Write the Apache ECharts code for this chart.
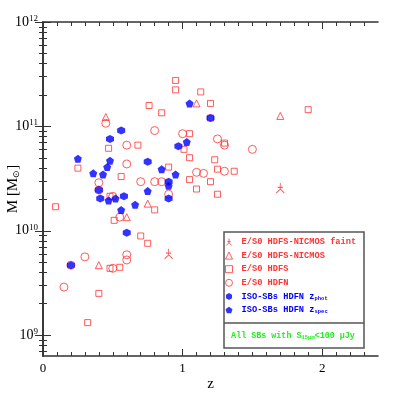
<!DOCTYPE html>
<html>
<head>
<meta charset="utf-8">
<script src="https://cdn.jsdelivr.net/npm/echarts@6/dist/echarts.min.js"></script>
<style>
html,body{margin:0;padding:0;background:#fff;}
#chart{width:399px;height:399px;}
</style>
</head>
<body>
<div id="chart"></div>
<script>
// values: z and log10(M / Msun)
var faintZ    = [0.90, 1.70];
var faintLogM = [9.78, 10.41];

var nicmosZ    = [0.45, 1.10, 1.70, 0.75, 0.60, 0.40];
var nicmosLogM = [11.09, 11.22, 11.10, 10.26, 10.13, 9.67];

var hdfsZ    = [0.25, 0.47, 0.56, 0.68, 0.76, 0.85, 0.90, 0.95, 0.95, 1.13, 1.20, 1.20,
                1.05, 1.30, 1.01, 1.05, 1.23, 1.25, 1.37, 1.20, 1.25, 1.90, 0.80, 1.05,
                1.10, 0.48, 0.09, 0.51, 0.70, 0.75, 0.48, 0.55, 0.40, 0.32];
var hdfsLogM = [10.60, 10.79, 10.52, 10.82, 11.20, 11.13, 10.61, 11.44, 11.35, 11.33, 11.22, 11.08,
                10.93, 10.84, 10.78, 10.70, 10.68, 10.59, 10.57, 10.47, 10.35, 11.16, 10.20, 10.49,
                10.40, 10.33, 10.23, 10.10, 9.95, 9.88, 9.64, 9.65, 9.40, 9.12];

var hdfnZ    = [0.45, 0.60, 0.60, 0.80, 0.70, 0.80, 0.85, 0.90, 1.00, 1.25, 1.30, 1.50, 1.15,
                1.10, 1.30, 0.40, 0.40, 0.50, 0.55, 0.30, 0.60, 0.60, 0.20, 0.50, 0.15];
var hdfnLogM = [11.03, 10.82, 10.64, 10.96, 10.47, 10.47, 10.47, 10.35, 10.93, 10.88, 10.82, 10.78, 10.55,
                10.56, 10.57, 10.46, 10.39, 10.33, 10.13, 9.75, 9.77, 9.72, 9.67, 9.64, 9.46];

var photZ    = [0.20, 0.40, 0.48, 0.56, 0.75, 0.90, 0.90, 1.20, 0.97, 0.41, 0.58, 0.60];
var photLogM = [9.67, 10.39, 10.88, 10.96, 10.66, 10.47, 10.31, 11.08, 10.81, 10.31, 10.33, 9.98];

var specZ    = [0.25, 0.36, 0.43, 0.46, 0.48, 0.85, 0.95, 0.90, 1.05, 1.03, 0.75, 0.47, 0.52, 0.66, 0.56];
var specLogM = [10.69, 10.55, 10.54, 10.61, 10.67, 10.59, 10.54, 10.43, 11.22, 10.85, 10.38, 10.29, 10.31, 10.25, 10.20];

var xMajor = [0, 1, 2];
var yMajor = [9, 10, 11, 12];

var red = '#ff3333', blue = '#0000ff';
var serif = 'Liberation Serif';

function pts(xs, ys) {
  return xs.map(function (x, i) { return [x, ys[i]]; });
}

var xMinor = [];
for (var i = 1; i < 24; i++) { if (i % 10) xMinor.push(i / 10); }
var yMinor = [];
[8, 9, 10, 11].forEach(function (n) {
  for (var k = 2; k <= 9; k++) {
    var v = n + Math.log10(k);
    if (v > 8.8 && v < 12) yMinor.push(v);
  }
});

var frame = { show: true, lineStyle: { color: '#333', width: 1.6 } };

function xAx(pos, ticks, len, line, labels) {
  return {
    type: 'value', position: pos, min: 0, max: 2.4,
    axisLine: line ? frame : { show: false },
    axisTick: { show: true, inside: true, length: len, customValues: ticks, lineStyle: { color: '#333', width: 1 } },
    axisLabel: labels ? { show: true, customValues: labels, margin: 6, color: '#000', fontFamily: serif, fontSize: 13 } : { show: false },
    splitLine: { show: false }
  };
}
function yAx(pos, ticks, len, line, labels) {
  return {
    type: 'value', position: pos, min: 8.8, max: 12,
    axisLine: line ? frame : { show: false },
    axisTick: { show: true, inside: true, length: len, customValues: ticks, lineStyle: { color: '#333', width: 1 } },
    axisLabel: labels ? {
      show: true, customValues: labels, margin: 5,
      formatter: function (v) { return '{b|10}{s|' + v + '}'; },
      rich: {
        b: { fontFamily: serif, fontSize: 14, color: '#000', lineHeight: 16 },
        s: { fontFamily: serif, fontSize: 9, color: '#000', lineHeight: 9, verticalAlign: 'top' }
      }
    } : { show: false },
    splitLine: { show: false }
  };
}

var xAxes = [xAx('bottom', xMajor, 7, true, xMajor), xAx('bottom', xMinor, 4, false), xAx('top', [1, 2], 7, true), xAx('top', xMinor, 4, false)];
xAxes[0].name = 'z';
xAxes[0].nameLocation = 'middle';
xAxes[0].nameGap = 21;
xAxes[0].nameMoveOverlap = false;
xAxes[0].nameTextStyle = { fontFamily: serif, fontSize: 15, color: '#000' };

var yAxes = [yAx('left', yMajor, 8, true, yMajor), yAx('left', yMinor, 4, false), yAx('right', yMajor, 8, true), yAx('right', yMinor, 4, false)];
yAxes[0].name = 'M [M{sub|⊙}]';
yAxes[0].nameLocation = 'middle';
yAxes[0].nameGap = 22;
yAxes[0].nameMoveOverlap = false;
yAxes[0].nameTextStyle = {
  fontFamily: serif, fontSize: 15, color: '#000',
  rich: { sub: { fontSize: 9, color: '#000', verticalAlign: 'bottom', lineHeight: 9 } }
};

var hollow = function (c) { return { color: 'rgba(0,0,0,0)', borderColor: c, borderWidth: 1 }; };
var pent = 'path://M0,-1L0.951,-0.309L0.588,0.809L-0.588,0.809L-0.951,-0.309Z';
var hexa = 'path://M0,-1L0.866,-0.5L0.866,0.5L0,1L-0.866,0.5L-0.866,-0.5Z';
var faintSym = 'path://M0,-1L0,0.1M-0.45,-0.2L0.45,-0.2M0,0.1L-0.7,0.8M0,0.1L0.7,0.8';

var names = ['faint', 'nicmos', 'hdfs', 'hdfn', 'phot', 'spec'];
var labels = {
  faint: 'E/S0 HDFS-NICMOS faint',
  nicmos: 'E/S0 HDFS-NICMOS',
  hdfs: 'E/S0 HDFS',
  hdfn: 'E/S0 HDFN',
  phot: 'ISO-SBs HDFN z{sb|phot}',
  spec: 'ISO-SBs HDFN z{sb|spec}'
};

function sc(name, data, symbol, size, style) {
  return {
    type: 'scatter', name: name, data: data, symbol: symbol, symbolSize: size,
    itemStyle: style, emphasis: { disabled: true }, z: 2
  };
}

var chart = echarts.init(document.getElementById('chart'));
chart.setOption({
  animation: false,
  grid: { left: 43, right: 21, top: 22, bottom: 43, outerBoundsMode: 'none' },
  xAxis: xAxes,
  yAxis: yAxes,
  legend: {
    orient: 'vertical', left: 225, top: 237, padding: 0,
    itemWidth: 7, itemHeight: 7, itemGap: 3.6,
    itemStyle: { borderWidth: 1 },
    textStyle: {
      fontFamily: 'Liberation Mono', fontWeight: 'bold', fontSize: 8.7, lineHeight: 10, padding: [0, 0, 0, 4],
      rich: { sb: { fontFamily: 'Liberation Mono', fontWeight: 'bold', fontSize: 5.5, lineHeight: 6, color: blue, verticalAlign: 'bottom' } }
    },
    formatter: function (n) { return labels[n]; },
    data: names.map(function (n, i) {
      return { name: n, textStyle: { color: i < 4 ? red : blue } };
    }),
    z: 6
  },
  graphic: [
    { type: 'rect', z: 3, shape: { x: 224, y: 232, width: 140, height: 116 },
      style: { fill: '#fff', stroke: '#555', lineWidth: 1.5 } },
    { type: 'line', z: 4, shape: { x1: 224, y1: 323, x2: 364, y2: 323 },
      style: { stroke: '#555', lineWidth: 1.5 } },
    { type: 'text', z: 5, x: 293, y: 336,
      style: {
        text: 'All SBs with S{s|15μm}<100 μJy', align: 'center', verticalAlign: 'middle',
        fontFamily: 'Liberation Mono', fontWeight: 'bold', fontSize: 8.4, lineHeight: 10, fill: '#22ee22',
        rich: { s: { fontFamily: 'Liberation Mono', fontWeight: 'bold', fontSize: 5.5, lineHeight: 6, fill: '#22ee22', verticalAlign: 'bottom' } }
      } }
  ],
  series: [
    sc('faint', pts(faintZ, faintLogM), faintSym, [8, 10], hollow(red)),
    sc('nicmos', pts(nicmosZ, nicmosLogM), 'triangle', 7, hollow(red)),
    sc('hdfs', pts(hdfsZ, hdfsLogM), 'rect', 6, hollow(red)),
    sc('hdfn', pts(hdfnZ, hdfnLogM), 'circle', 8, hollow(red)),
    sc('phot', pts(photZ, photLogM), hexa, 8, { color: blue }),
    sc('spec', pts(specZ, specLogM), pent, 8, { color: blue })
  ]
});
</script>
</body>
</html>
